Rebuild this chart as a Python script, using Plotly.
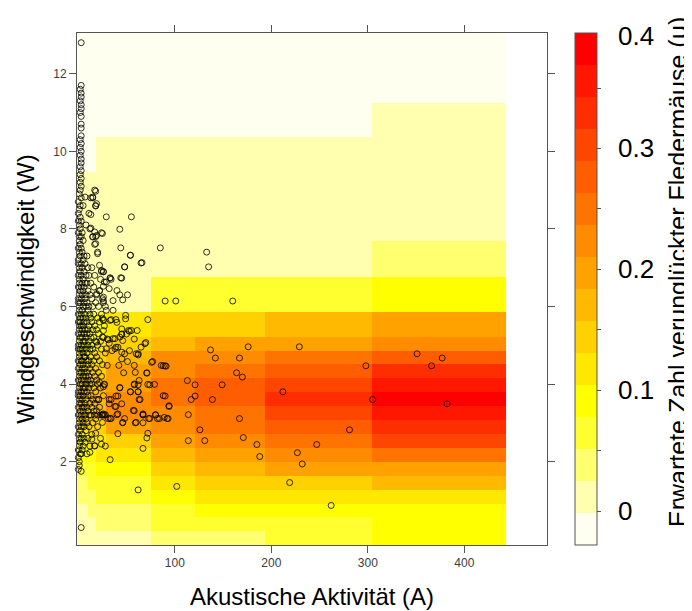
import plotly.graph_objects as go

# ---------------- Daten ----------------
# Zellgrenzen des Vorhersagegitters
akt_grenzen = [-1.3, 10.1, 18.0, 29.1, 75.8, 120.7, 193.3, 304.7, 443.0]
wind_grenzen = [-0.15, 0.20, 0.56, 0.92, 1.27, 1.63, 1.98, 2.35, 2.71, 3.07, 3.44,
                3.80, 4.16, 4.52, 4.86, 5.21, 5.85, 6.77, 7.68, 9.47, 10.36, 11.25, 13.05]

# erwartete Zahl verunglückter Fledermäuse (mu), Zeilen = Windklassen (unten -> oben)
mu = [
    [0.01, 0.01, 0.01, 0.01, 0.04, 0.04, 0.06, 0.09],
    [0.01, 0.01, 0.04, 0.04, 0.06, 0.06, 0.06, 0.09],
    [0.01, 0.04, 0.04, 0.04, 0.06, 0.09, 0.09, 0.09],
    [0.04, 0.04, 0.06, 0.06, 0.09, 0.12, 0.12, 0.12],
    [0.04, 0.06, 0.06, 0.06, 0.12, 0.14, 0.14, 0.17],
    [0.06, 0.06, 0.09, 0.09, 0.14, 0.17, 0.20, 0.20],
    [0.09, 0.09, 0.12, 0.12, 0.17, 0.20, 0.22, 0.25],
    [0.09, 0.12, 0.12, 0.14, 0.20, 0.22, 0.25, 0.30],
    [0.12, 0.14, 0.14, 0.20, 0.22, 0.25, 0.28, 0.33],
    [0.14, 0.14, 0.17, 0.22, 0.22, 0.25, 0.30, 0.36],
    [0.14, 0.17, 0.17, 0.22, 0.25, 0.28, 0.33, 0.38],
    [0.14, 0.14, 0.17, 0.20, 0.25, 0.28, 0.30, 0.36],
    [0.12, 0.14, 0.14, 0.20, 0.22, 0.25, 0.28, 0.33],
    [0.12, 0.12, 0.14, 0.17, 0.22, 0.22, 0.25, 0.28],
    [0.09, 0.09, 0.12, 0.14, 0.17, 0.20, 0.20, 0.22],
    [0.06, 0.06, 0.09, 0.12, 0.14, 0.14, 0.17, 0.20],
    [0.01, 0.01, 0.01, 0.01, 0.06, 0.06, 0.06, 0.09],
    [0.01, 0.01, 0.01, 0.01, 0.01, 0.01, 0.01, 0.04],
    [0.01, 0.01, 0.01, 0.01, 0.01, 0.01, 0.01, 0.01],
    [-0.01, -0.01, 0.01, 0.01, 0.01, 0.01, 0.01, 0.01],
    [-0.01, -0.01, -0.01, -0.01, -0.01, -0.01, -0.01, 0.01],
    [-0.01, -0.01, -0.01, -0.01, -0.01, -0.01, -0.01, -0.01],
]

mu_min = -0.028
mu_max = 0.3955
farben = ["#FFFFF0", "#FFFFAF", "#FFFF70", "#FFFF30", "#FFFF00", "#FFE800",
          "#FFD100", "#FFB900", "#FFA200", "#FF8B00", "#FF7400", "#FF5D00",
          "#FF4600", "#FF2E00", "#FF1700", "#FF0000"]

# Beobachtungen (Akustische Aktivität A, Windgeschwindigkeit W)
punkte = [
    (3, 12.8), (3, 11.7), (2, 11.6), (3, 11.5), (3, 11.4), (2, 11.3), (3, 11.2), (3, 11.1),
    (2, 11.0), (3, 10.9), (3, 10.7), (3, 10.6), (3, 10.4), (2, 10.3), (3, 10.2), (2, 10.1),
    (3, 10.0), (2, 9.9), (3, 9.8), (3, 9.7), (2, 9.6), (3, 9.5), (2, 9.4), (3, 9.3),
    (2, 9.2), (3, 9.1),
    (0, 1.8), (0, 2.1), (0, 2.3), (0, 2.7), (0, 2.9), (0, 3.2), (0, 3.4), (0, 3.7), (0, 3.8),
    (0, 4.1), (0, 4.4), (0, 4.6), (0, 4.9), (0, 5.0), (0, 5.3), (0, 5.6), (0, 5.8), (0, 6.1),
    (0, 6.2), (0, 6.5), (0, 6.8), (0, 7.1), (0, 7.2), (0, 7.5), (0, 7.9), (0, 8.2), (0, 8.4),
    (0, 8.7),
    (1, 1.9), (1, 2.0), (1, 2.4), (1, 2.6), (1, 3.0), (1, 3.1), (1, 3.5), (1, 3.6), (1, 3.9),
    (1, 4.2), (1, 4.3), (1, 4.7), (1, 4.8), (1, 5.1), (1, 5.4), (1, 5.5), (1, 5.9), (1, 6.0),
    (1, 6.3), (1, 6.6), (1, 6.7), (1, 7.0), (1, 7.4), (1, 7.7), (1, 7.8), (1, 8.1), (1, 8.5),
    (1, 8.9),
    (2, 2.2), (2, 2.5), (2, 2.8), (2, 3.3), (2, 3.7), (2, 4.0), (2, 4.5), (2, 4.9), (2, 5.2),
    (2, 5.6), (2, 5.7), (2, 6.1), (2, 6.4), (2, 6.9), (2, 7.3), (2, 7.6), (2, 8.0), (2, 8.3),
    (2, 8.6), (2, 9.0),
    (3, 0.3), (3, 1.75), (3, 2.2), (3, 2.6), (3, 2.9), (3, 3.2), (3, 3.5), (3, 3.8), (3, 4.1),
    (3, 4.3), (3, 4.6), (3, 5.0), (3, 5.3), (3, 5.5), (3, 5.8), (3, 6.2), (3, 6.5), (3, 6.8),
    (3, 7.1), (3, 7.5), (3, 7.8), (3, 8.2), (3, 8.8),
    (4, 2.3), (4, 2.7), (4, 3.1), (4, 3.4), (4, 3.6), (4, 4.0), (4, 4.4), (4, 4.6), (4, 4.9),
    (4, 5.2), (4, 5.4), (4, 5.9), (4, 6.3), (4, 6.6), (4, 7.0), (4, 7.4), (4, 7.9),
    (5, 2.4), (5, 3.0), (5, 3.3), (5, 3.7), (5, 3.9), (5, 4.2), (5, 4.5), (5, 4.8), (5, 5.1),
    (5, 5.5), (5, 5.7), (5, 6.0), (5, 6.4), (5, 6.7), (5, 7.2), (5, 7.7), (5, 8.6),
    (6, 2.6), (6, 2.9), (6, 3.4), (6, 3.8), (6, 4.1), (6, 4.3), (6, 4.7), (6, 5.0), (6, 5.3),
    (6, 5.6), (6, 6.1), (6, 6.5), (6, 6.9), (6, 7.3),
    (7, 2.5), (7, 3.2), (7, 3.5), (7, 3.9), (7, 4.4), (7, 4.7), (7, 5.1), (7, 5.4), (7, 5.8),
    (7, 6.2), (7, 6.6), (7, 7.1),
    (8, 2.8), (8, 3.1), (8, 3.6), (8, 4.0), (8, 4.2), (8, 4.6), (8, 4.9), (8, 5.2), (8, 5.7),
    (8, 6.0), (8, 6.3), (8, 6.8), (8, 8.1),
    (9, 2.2), (9, 3.0), (9, 3.4), (9, 3.8), (9, 4.3), (9, 4.8), (9, 5.3), (9, 5.6), (9, 6.1),
    (9, 6.6), (9, 7.3),
    (10, 2.6), (10, 3.3), (10, 3.7), (10, 4.1), (10, 4.5), (10, 5.0), (10, 5.4), (10, 5.9),
    (10, 6.4), (10, 7.0),
    (11, 2.9), (11, 3.2), (11, 3.9), (11, 4.2), (11, 4.6), (11, 5.1), (11, 5.5), (11, 6.0),
    (11, 6.8), (11, 8.4),
    (12, 2.4), (12, 3.5), (12, 4.0), (12, 4.4), (12, 4.9), (12, 5.3), (12, 5.8), (12, 6.3), (12, 8.0),
    (13, 3.2), (13, 3.7), (13, 4.1), (13, 4.7), (13, 5.2), (13, 5.7), (13, 6.6), (13, 8.8),
    (14, 2.7), (14, 3.4), (14, 4.0), (14, 4.5), (14, 5.0), (14, 5.6), (14, 6.2), (14, 7.0),
    (15, 3.0), (15, 3.6), (15, 4.3), (15, 4.9), (15, 5.4), (15, 6.0), (15, 7.8), (15, 8.8),
    (16, 3.3), (16, 3.9), (16, 4.6), (16, 5.2), (16, 5.8), (16, 6.5),
    (17, 2.4), (17, 3.5), (17, 4.2), (17, 4.8), (17, 5.5), (17, 6.8), (17, 7.6), (17, 9.0),
    (18, 3.1), (18, 3.8), (18, 4.4), (18, 5.1), (18, 6.1), (18, 7.8), (18, 8.6),
    (19, 3.6), (19, 4.1), (19, 4.7), (19, 5.4), (19, 6.3),
    (20, 2.9), (20, 3.2), (20, 4.0), (20, 5.0), (20, 5.7), (20, 7.4),
    (21, 3.6), (21, 4.3), (21, 5.3), (21, 6.0),
    (22, 3.4), (22, 4.6), (22, 5.6), (22, 6.4),
    (23, 2.6), (23, 3.9), (23, 5.1), (23, 6.7),
    (24, 3.2), (24, 4.2), (24, 4.9), (24, 5.8), (24, 6.9), (24, 7.9),
    (25, 3.2), (25, 4.5), (25, 5.7), (25, 6.2),
    (26, 3.7), (26, 5.2), (26, 6.1), (26, 6.9),
    (27, 3.2), (27, 4.0), (27, 5.5),
    (28, 2.4), (28, 4.8), (28, 6.0),
    (90, 6.14), (101, 6.14), (160, 6.14), (137, 4.88), (142, 4.67), (176, 4.96), (167, 4.67),
    (229, 4.96), (351, 4.78), (377, 4.67), (366, 4.47), (298, 4.47), (88, 4.47), (90, 4.47),
    (164, 4.29), (170, 4.18), (113, 4.09), (121, 3.98), (149, 3.98), (212, 3.80), (90, 3.69),
    (121, 3.69), (117, 3.60), (139, 3.60), (305, 3.60), (382, 3.49), (94, 3.42), (84, 3.11),
    (93, 3.11), (114, 3.21), (167, 3.11), (281, 2.82), (126, 2.82), (114, 2.54), (131, 2.54),
    (171, 2.62), (185, 2.44), (188, 2.13), (247, 2.44), (227, 2.23), (232, 1.94), (102, 1.36),
    (219, 1.46), (262, 0.87), (486, 3.00),
    (133, 7.40), (135, 7.02), (65, 7.12), (54, 7.32), (48, 7.02), (44, 6.74), (33, 6.74),
    (72, 5.66), (77, 4.58), (71, 4.29), (72, 3.99), (79, 3.99), (62, 3.98), (62, 3.80),
    (63, 3.60), (57, 3.32), (67, 3.21), (59, 3.00), (67, 3.00), (74, 3.11), (80, 3.21),
    (82, 3.11), (72, 2.73), (71, 2.61), (67, 2.34), (62, 1.27), (33, 2.05), (41, 2.72),
    (33, 3.11), (31, 3.11), (40, 3.21), (46, 3.00), (25, 3.21), (28, 3.21), (38, 3.42),
    (48, 3.11), (54, 3.80), (58, 3.98), (63, 4.09), (39, 3.69), (41, 3.69), (43, 3.91),
    (34, 3.60), (32, 3.60), (21, 3.60), (42, 4.48), (30, 4.48), (47, 4.29), (51, 4.58),
    (58, 4.48), (65, 4.95), (62, 4.75), (70, 5.07), (60, 4.78), (58, 5.16), (61, 5.38),
    (55, 5.38), (52, 5.38), (45, 5.29), (50, 5.29), (39, 5.66), (33, 5.64), (26, 5.66),
    (49, 5.77), (49, 5.68), (38, 5.17), (45, 5.28), (39, 4.95), (41, 4.95), (48, 4.78),
    (30, 5.16), (32, 5.05), (35, 4.86), (19, 5.08), (45, 4.65),
    (18, 8.59), (29, 8.31), (55, 8.31), (43, 7.99), (85, 7.51), (44, 7.51), (54, 7.32),
    (66, 7.13), (48, 7.02), (33, 6.73), (45, 6.73), (19, 7.83), (15, 7.79), (13, 8.37),
    (13, 8.02), (24, 6.93), (26, 6.89), (22, 7.06), (29, 6.63), (32, 6.46), (40, 6.41),
    (43, 6.30), (36, 6.15), (46, 6.17), (51, 6.30), (26, 6.15), (20, 7.36), (18, 7.62),
    (18, 8.97), (15, 8.82), (19, 8.65), (7, 8.82), (25, 7.88), (17, 7.92), (34, 6.70),
    (27, 6.63), (26, 6.52), (22, 6.41), (19, 6.33), (26, 6.24), (29, 5.90), (36, 5.90),
    (26, 5.64), (34, 5.66), (40, 5.59), (45, 5.42), (53, 5.36), (26, 5.38), (25, 5.21),
    (31, 5.14), (36, 5.17), (43, 5.21), (46, 5.12), (29, 4.91), (38, 4.91), (45, 4.82),
    (53, 4.86), (62, 4.78), (69, 5.04), (76, 4.56), (86, 4.48), (91, 4.46), (71, 4.28),
    (59, 4.30),
    (24, 2.45), (18, 2.73), (14, 2.58), (12, 2.24), (17, 2.41), (25, 3.01), (34, 3.11),
    (46, 3.01), (60, 3.01), (67, 3.20), (73, 3.11), (80, 3.20), (92, 3.11), (41, 3.23),
    (45, 3.49), (39, 3.42), (58, 3.31), (67, 3.23), (43, 3.90), (54, 3.80), (62, 3.80),
    (64, 3.60), (58, 4.00), (74, 3.98), (26, 3.93), (27, 3.98), (22, 4.04), (88, 3.70),
    (94, 3.44), (89, 3.14), (32, 3.49), (26, 3.23), (19, 3.31), (17, 3.20),
]

x_ticks = [100, 200, 300, 400]
y_ticks = [2, 4, 6, 8, 10, 12]
cb_labels = [0, 0.1, 0.2, 0.3, 0.4]
cb_ticks = [0, 0.05, 0.1, 0.15, 0.2, 0.25, 0.3, 0.35]

# ---------------- Figur ----------------
akt = [p[0] for p in punkte]
wind = [p[1] for p in punkte]

n = len(farben)
skala = []
for i, c in enumerate(farben):
    skala.append([i / n, c])
    skala.append([(i + 1) / n, c])

FONT = "Liberation Sans, Arial, sans-serif"
LINE = "#555555"

# page offset caused by the default 8px body margin of the html page
OFF = 8
W, H = 692 - OFF, 611 - OFF
# plot-area pixel geometry (in page pixels)
L, R, T, B = 77, 547, 33, 545

fig = go.Figure()
fig.add_trace(go.Heatmap(
    x=akt_grenzen, y=wind_grenzen, z=mu,
    zmin=mu_min, zmax=mu_max, colorscale=skala,
    hoverinfo="skip",
    colorbar=dict(
        x=(575 - L) / (R - L), xanchor="left", xpad=0, ypad=0,
        y=0.5, yanchor="middle", len=B - T, lenmode="pixels",
        thickness=22, thicknessmode="pixels",
        outlinecolor=LINE, outlinewidth=1,
        tickvals=cb_ticks, ticks="outside", ticklen=4, tickcolor=LINE,
        showticklabels=False,
    ),
))
fig.add_trace(go.Scatter(
    x=akt, y=wind, mode="markers", cliponaxis=False, hoverinfo="skip",
    marker=dict(symbol="circle-open", size=6, color="black",
                line=dict(width=0.8, color="black")),
    showlegend=False,
))

axis_common = dict(
    showgrid=False, zeroline=False, showline=True, linecolor=LINE, linewidth=1,
    mirror="allticks", ticks="outside", ticklen=7, tickcolor=LINE, tickwidth=1,
    tickfont=dict(family=FONT, size=12, color="#3c3c3c"),
)
fig.update_xaxes(range=[-1.35, 485.6], tickvals=x_ticks, **axis_common)
fig.update_yaxes(range=[-0.15, 13.05], tickvals=y_ticks, **axis_common,
                 title=dict(text="Windgeschwindigkeit (W)",
                            font=dict(family=FONT, size=24, color="black"), standoff=11))

ann = []
unit = (B - T) / (mu_max - mu_min)
for v in cb_labels:
    py = B - (v - mu_min) * unit
    if py < 36:
        py = 36
    ann.append(dict(x=(616 - L) / (R - L), y=(B - py) / (B - T), xref="paper", yref="paper",
                    text=("0" if v == 0 else f"{v:.1f}"), showarrow=False,
                    xanchor="left", yanchor="middle",
                    font=dict(family=FONT, size=26, color="black")))
# colour-key title
ann.append(dict(x=(678 - L) / (R - L), y=(B - 272) / (B - T), xref="paper", yref="paper",
                text="Erwartete Zahl verunglückter Fledermäuse (μ)", textangle=-90,
                showarrow=False, xanchor="center", yanchor="middle",
                font=dict(family=FONT, size=25, color="black")))
# x-axis title
ann.append(dict(x=0.5, y=(B - 596) / (B - T), xref="paper", yref="paper",
                text="Akustische Aktivität (A)", showarrow=False,
                xanchor="center", yanchor="middle",
                font=dict(family=FONT, size=24, color="black")))

fig.update_layout(
    width=W, height=H,
    margin=dict(l=L - OFF, r=692 - R, t=T - OFF, b=611 - B, pad=0),
    paper_bgcolor="white", plot_bgcolor="white",
    showlegend=False, annotations=ann,
)

fig.write_html("out.html")
